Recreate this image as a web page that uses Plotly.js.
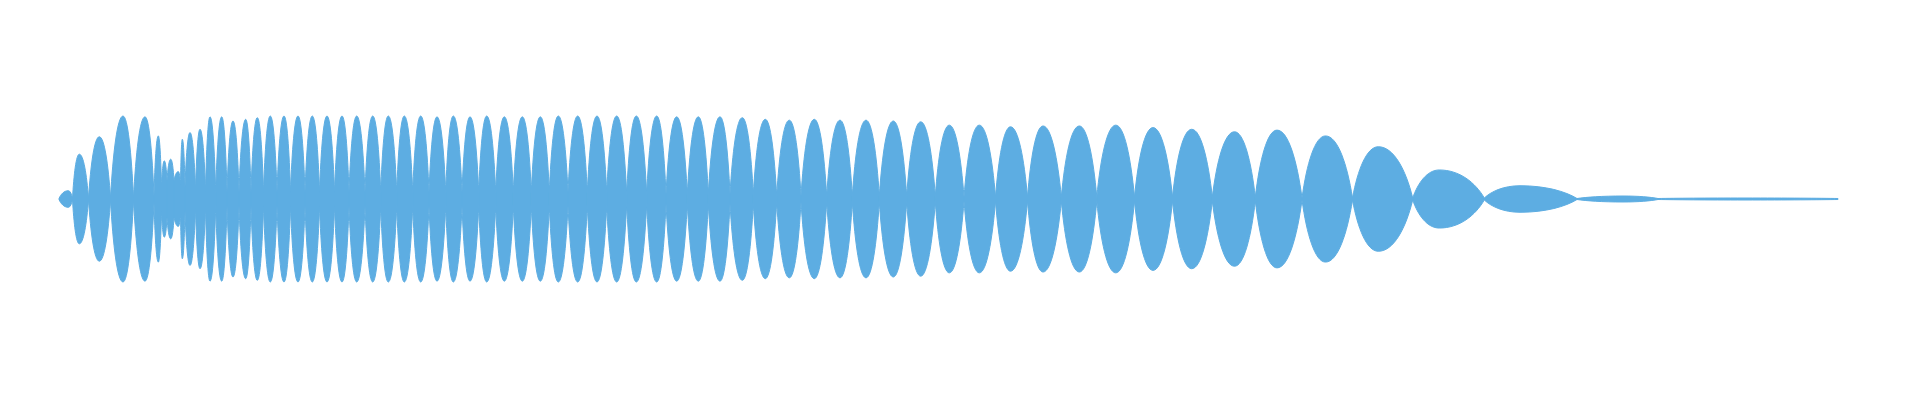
<!DOCTYPE html>
<html>
<head>
<meta charset="utf-8">
<script src="https://cdn.plot.ly/plotly-3.0.1.min.js"></script>
<style>html,body{margin:0;padding:0;background:#fff;}#chart{width:1920px;height:400px;}</style>
</head>
<body>
<div id="chart"></div>
<script>
// Waveform envelope (time in seconds, amplitude normalised)
// Pinch (near-zero) points between beats
const pinchTime = [0.002, 0.0155, 0.0315, 0.0535, 0.0765, 0.097, 0.1045, 0.110, 0.117, 0.1235,
  0.128, 0.1385, 0.1485, 0.1587, 0.170, 0.182, 0.194, 0.2065, 0.220, 0.2335,
  0.248, 0.2625, 0.2775, 0.292, 0.308, 0.3237, 0.3397, 0.3557, 0.372, 0.3887,
  0.405, 0.4217, 0.4387, 0.4563, 0.4743, 0.4923, 0.511, 0.5303, 0.5497, 0.5697,
  0.5897, 0.609, 0.6303, 0.6513, 0.673, 0.6963, 0.7197, 0.744, 0.7697, 0.7953,
  0.8223, 0.8497, 0.8783, 0.907, 0.9385, 0.9705, 1.0043, 1.0398, 1.0775, 1.1155,
  1.1553, 1.1983, 1.245, 1.2955, 1.3557, 1.4273, 1.520, 1.601, 1.781];
const pinchLevel = [0.006, 0.006, 0.006, 0.012, 0.012, 0.036, 0.145, 0.22, 0.22, 0.18,
  0.145, 0.11, 0.096, 0.084, 0.084, 0.084, 0.084, 0.084, 0.084, 0.084,
  0.084, 0.084, 0.084, 0.084, 0.084, 0.084, 0.084, 0.084, 0.084, 0.084,
  0.084, 0.084, 0.084, 0.084, 0.084, 0.084, 0.084, 0.084, 0.084, 0.06,
  0.06, 0.06, 0.06, 0.06, 0.06, 0.06, 0.036, 0.036, 0.036, 0.036,
  0.036, 0.036, 0.036, 0.024, 0.024, 0.024, 0.024, 0.024, 0.024, 0.024,
  0.024, 0.024, 0.012, 0.012, 0.012, 0.012, 0.006, 0.006, 0.006];
// Beat peaks
const peakTime = [0.0113, 0.0223, 0.0423, 0.066, 0.088, 0.1013, 0.1073, 0.1137, 0.1213, 0.1253,
  0.133, 0.143, 0.153, 0.1647, 0.176, 0.1887, 0.2003, 0.2133, 0.227, 0.241,
  0.2553, 0.270, 0.285, 0.2997, 0.3157, 0.3313, 0.3473, 0.3637, 0.380, 0.3963,
  0.413, 0.4297, 0.4473, 0.4653, 0.4833, 0.5013, 0.5207, 0.540, 0.5597, 0.5793,
  0.5997, 0.6197, 0.6413, 0.663, 0.6853, 0.7083, 0.7323, 0.7573, 0.783, 0.809,
  0.8363, 0.8637, 0.8923, 0.9223, 0.9535, 0.986, 1.0223, 1.0588, 1.096, 1.1347,
  1.1775, 1.220, 1.2685, 1.3213, 1.3823, 1.463, 1.566, 1.688];
const peakAmp = [0.10, 0.54, 0.75, 1.00, 0.99, 0.76, 0.46, 0.48, 0.33, 0.72,
  0.80, 0.84, 0.99, 0.99, 0.94, 0.96, 0.98, 1.00, 1.00, 1.00,
  1.00, 1.00, 1.00, 1.00, 1.00, 1.00, 1.00, 1.00, 0.99, 1.00,
  0.99, 1.00, 0.99, 0.99, 0.99, 1.00, 1.00, 1.00, 1.00, 1.00,
  1.00, 0.99, 0.99, 0.99, 0.98, 0.96, 0.95, 0.96, 0.95, 0.95,
  0.94, 0.93, 0.89, 0.89, 0.87, 0.88, 0.88, 0.89, 0.86, 0.84,
  0.81, 0.83, 0.76, 0.63, 0.35, 0.16, 0.036, 0.012];

const color = '#5DADE2';
// Curve style of each beat outline (Bezier handle fractions)
const TIP_X = 0.2, TIP_Y = 0.55, TOP_X = 0.45;

function beatPath(i) {
  const x0 = pinchTime[i], xp = peakTime[i], x1 = pinchTime[i + 1];
  const f0 = pinchLevel[i], a = peakAmp[i], f1 = pinchLevel[i + 1];
  const L = xp - x0, R = x1 - xp;
  const p = (x, y) => x + ',' + y;
  return 'M' + p(x0, f0) +
    ' C' + p(x0 + TIP_X * L, f0 + TIP_Y * (a - f0)) + ' ' + p(xp - TOP_X * L, a) + ' ' + p(xp, a) +
    ' C' + p(xp + TOP_X * R, a) + ' ' + p(x1 - TIP_X * R, f1 + TIP_Y * (a - f1)) + ' ' + p(x1, f1) +
    ' L' + p(x1, -f1) +
    ' C' + p(x1 - TIP_X * R, -(f1 + TIP_Y * (a - f1))) + ' ' + p(xp + TOP_X * R, -a) + ' ' + p(xp, -a) +
    ' C' + p(xp - TOP_X * L, -a) + ' ' + p(x0 + TIP_X * L, -(f0 + TIP_Y * (a - f0))) + ' ' + p(x0, -f0) +
    ' Z';
}

const shapes = peakTime.map((_, i) => ({
  type: 'path', xref: 'x', yref: 'y', path: beatPath(i),
  fillcolor: color, line: {color: color, width: 1}, layer: 'above'
}));

// Hairline centre of the waveform on the same axes
const centre = {
  type: 'scatter', mode: 'lines',
  x: [pinchTime[0], pinchTime[pinchTime.length - 1]], y: [0, 0],
  line: {color: color, width: 1}, hoverinfo: 'skip', showlegend: false
};

const layout = {
  width: 1920, height: 400,
  margin: {l: 0, r: 0, t: 0, b: 0},
  paper_bgcolor: '#ffffff', plot_bgcolor: '#ffffff',
  xaxis: {range: [-0.057, 1.863], visible: false, showgrid: false, zeroline: false, fixedrange: true},
  yaxis: {range: [-2.4217, 2.3976], visible: false, showgrid: false, zeroline: false, fixedrange: true},
  shapes: shapes,
  showlegend: false
};

Plotly.newPlot('chart', [centre], layout, {displayModeBar: false, staticPlot: true});
</script>
</body>
</html>
